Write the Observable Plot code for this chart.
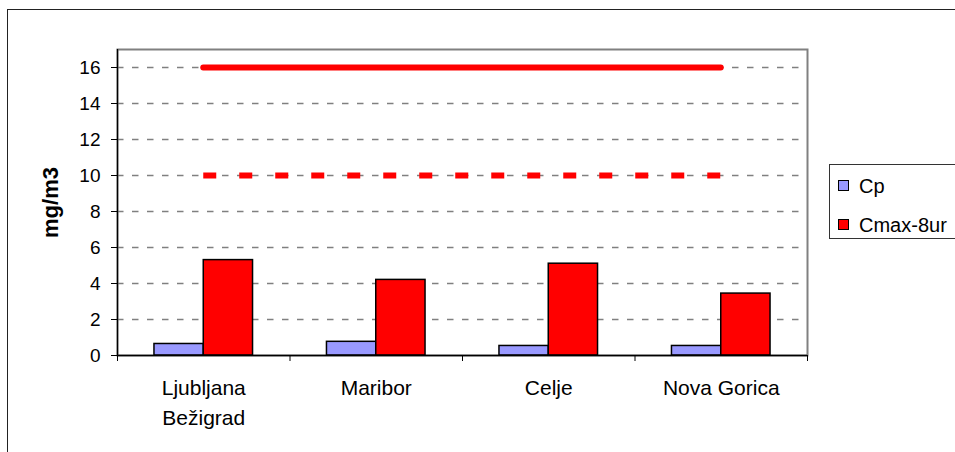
<!DOCTYPE html>
<html>
<head>
<meta charset="utf-8">
<script src="https://cdn.jsdelivr.net/npm/d3@7"></script>
<script src="https://cdn.jsdelivr.net/npm/@observablehq/plot@0.6"></script>
<style>
  html, body { margin: 0; padding: 0; background: #fff; overflow: hidden; }
  #wrap { position: relative; width: 955px; height: 452px; font-family: "Liberation Sans", Arial, sans-serif; }
  #outer { position: absolute; left: 7px; top: 9px; width: 980px; height: 480px; border: 1.5px solid #222; box-sizing: border-box; }
  #chart { position: absolute; left: 0; top: 0; }
  #legend { position: absolute; left: 829px; top: 164px; width: 140px; height: 75px; border: 1px solid #333; box-sizing: border-box; background: #fff; }
  .item { position: absolute; left: 8px; font-size: 20px; line-height: 20px; color: #000; white-space: nowrap; }
  .sw { position: absolute; left: 0; width: 11px; height: 11px; border: 1px solid #000; box-sizing: border-box; }
  .lbl { position: absolute; left: 21px; top: 0; }
</style>
</head>
<body>
<div id="wrap">
  <div id="outer"></div>
  <div id="chart"></div>
  <div id="legend"></div>
</div>
<script>
// Data
const categories = ["Ljubljana\nBežigrad", "Maribor", "Celje", "Nova Gorica"];
const seriesNames = ["Cp", "Cmax-8ur"];
const cpValues = [0.64, 0.76, 0.53, 0.53];
const cmaxValues = [5.3, 4.2, 5.1, 3.44];
const limitSolid = [16];
const limitDashed = [10];
const yTicks = [0, 2, 4, 6, 8, 10, 12, 14, 16];
const seriesColors = ["#9999FF", "#FF0000"];

const barW = 1 / 3.5;
const rows = categories.map((c, i) => ({i, cat: c, cp: cpValues[i], cmax: cmaxValues[i]}));
const bounds = d3.range(categories.length + 1).map(k => k - 0.5);

const chart = Plot.plot({
  width: 955,
  height: 452,
  marginLeft: 117,
  marginRight: 148,
  marginTop: 49,
  marginBottom: 97,
  x: {type: "linear", domain: [-0.5, categories.length - 0.5]},
  y: {domain: [0, 17]},
  style: {fontFamily: "'Liberation Sans', Arial, sans-serif", fontSize: "19px", background: "transparent", color: "#000"},
  marks: [
    Plot.ruleY(yTicks.filter(d => d > 0), {x1: -0.5, x2: categories.length - 0.5, stroke: "#808080", strokeWidth: 1.6, strokeDasharray: "6.5,8.5"}),
    Plot.frame({stroke: "#808080", strokeWidth: 2}),
    Plot.ruleY(limitSolid, {x1: 0, x2: categories.length - 1, stroke: "#FF0000", strokeWidth: 6, strokeLinecap: "round"}),
    Plot.ruleY(limitDashed, {x1: 0, x2: categories.length - 1, stroke: "#FF0000", strokeWidth: 6, strokeDasharray: "13,23"}),
    Plot.rectY(rows, {x1: d => d.i - barW, x2: d => d.i, y: "cp", fill: seriesColors[0], stroke: "#000", strokeWidth: 1.5}),
    Plot.rectY(rows, {x1: d => d.i, x2: d => d.i + barW, y: "cmax", fill: seriesColors[1], stroke: "#000", strokeWidth: 1.5}),
    Plot.ruleX([-0.5], {stroke: "#000", strokeWidth: 1.3}),
    Plot.ruleY([0], {stroke: "#000", strokeWidth: 1.3}),
    Plot.axisY({ticks: yTicks, tickSize: 6, tickPadding: 11, fontSize: 19, stroke: "#000", label: null}),
    Plot.axisX({ticks: bounds, tickSize: 6, tickFormat: () => "", stroke: "#000", label: null}),
    Plot.axisX({ticks: categories.map((c, i) => i), tickSize: 0, tickPadding: 18, tickFormat: i => categories[i], lineHeight: 1.43, fontSize: 21, label: null}),
    Plot.text(["mg/m3"], {frameAnchor: "left", textAnchor: "middle", dx: -67, rotate: -90, fontWeight: "bold", fontSize: 22})
  ]
});
document.getElementById("chart").appendChild(chart);

// Legend
const legend = document.getElementById("legend");
const tops = [11, 50];
seriesNames.forEach((name, k) => {
  const it = document.createElement("div");
  it.className = "item";
  it.style.top = tops[k] + "px";
  const sw = document.createElement("div");
  sw.className = "sw";
  sw.style.background = seriesColors[k];
  sw.style.top = "4px";
  const lb = document.createElement("span");
  lb.className = "lbl";
  lb.textContent = name;
  it.appendChild(sw);
  it.appendChild(lb);
  legend.appendChild(it);
});
</script>
</body>
</html>
